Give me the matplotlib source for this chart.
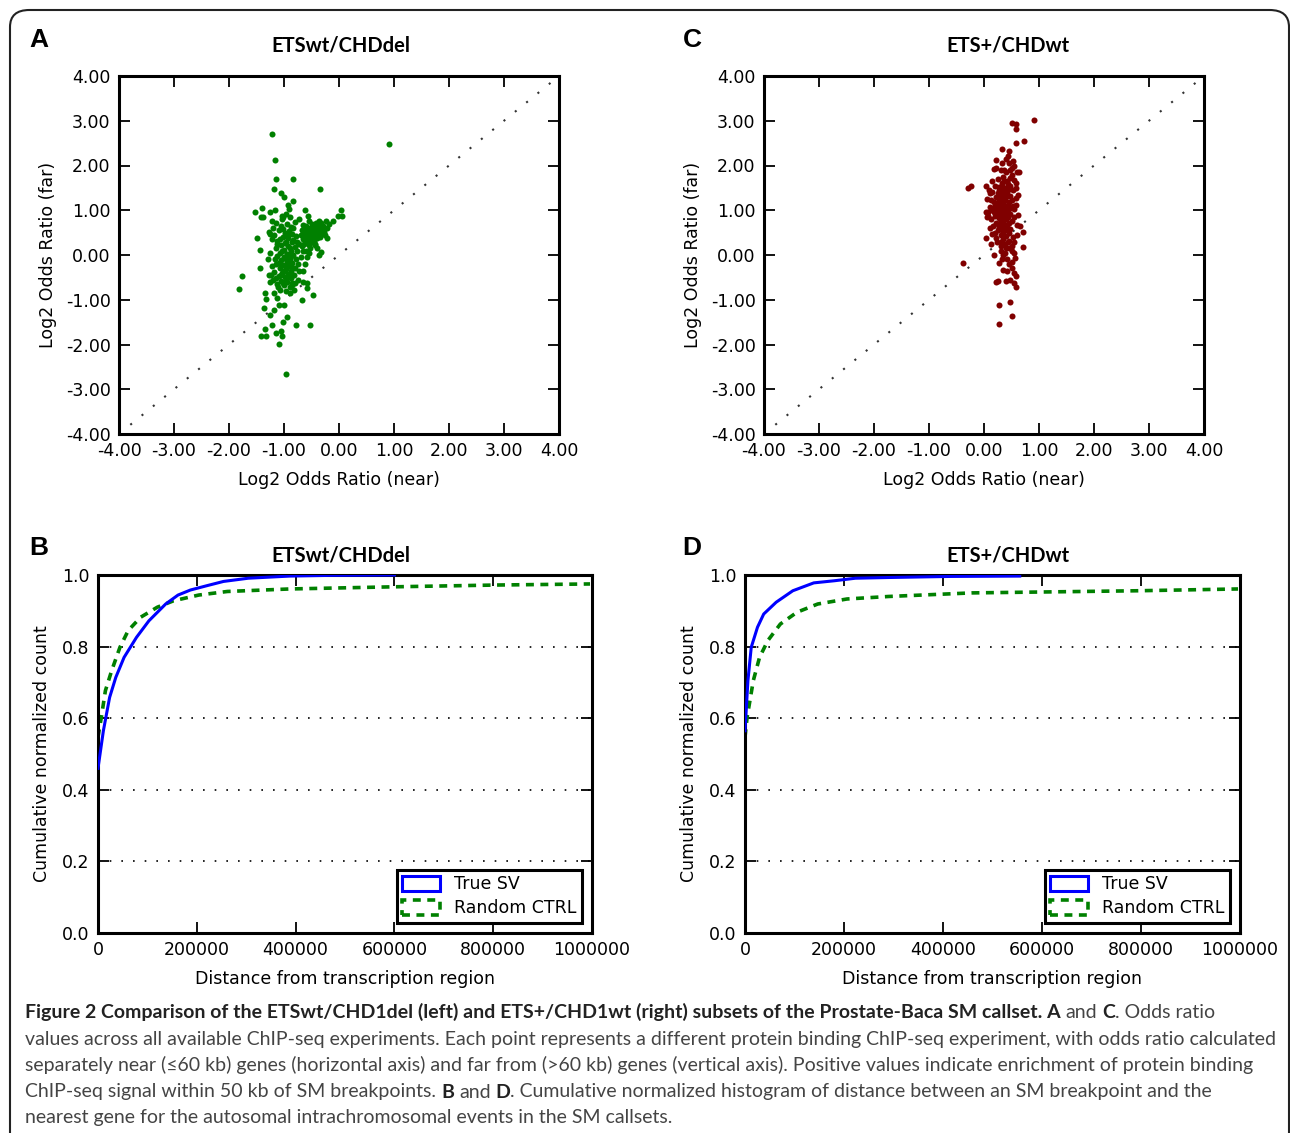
import matplotlib
matplotlib.use("Agg")
import matplotlib.pyplot as plt
from matplotlib.patches import Patch, FancyBboxPatch
from matplotlib.font_manager import FontProperties
import numpy as np

plt.rcParams["font.family"] = ["DejaVu Sans"]
plt.rcParams["font.sans-serif"] = ["DejaVu Sans"]

# ---------------- data ----------------
titles = ["ETSwt/CHDdel", "ETS+/CHDwt"]
panel_letters = ["A", "C", "B", "D"]
scatter_ticks = [-4, -3, -2, -1, 0, 1, 2, 3, 4]
cdf_xticks = [0, 200000, 400000, 600000, 800000, 1000000]
cdf_yticks = [0.0, 0.2, 0.4, 0.6, 0.8, 1.0]
legend_labels = ["True SV", "Random CTRL"]

a_pts = [
    (-1.21, 2.70), (0.91, 2.47), (-1.17, 2.12), (-1.14, 1.70), (-0.83, 1.70), (-1.18, 1.47),
    (-0.34, 1.47), (-1.06, 1.38), (-1.00, 1.29), (-0.84, 1.20), (-0.93, 1.11), (-0.91, 1.03),
    (-1.53, 0.96), (-1.40, 1.06), (-1.26, 0.96), (-1.17, 1.01), (-0.62, 1.01), (0.04, 1.00),
    (-0.02, 0.87), (0.05, 0.87), (-1.42, 0.86), (-1.38, 0.86), (-1.01, 0.84), (-1.04, 0.87),
    (-1.21, 0.77), (-0.11, 0.77), (-0.23, 0.75), (-0.57, 0.87), (-0.73, 0.81), (-0.80, 0.73),
    (-0.36, 0.75), (-1.26, 0.48), (-1.49, 0.37), (-0.21, 0.39), (-1.43, 0.11), (-0.36, -0.01),
    (-1.43, -0.30), (-1.76, -0.48), (-1.81, -0.77), (-1.34, -0.86), (-1.32, -0.98), (-0.68, -1.01),
    (-0.47, -0.89), (-1.36, -1.19), (-1.26, -1.34), (-1.19, -1.24), (-1.09, -1.12), (-1.00, -1.12),
    (-0.95, -1.38), (-1.01, -1.49), (-0.79, -1.56), (-0.53, -1.56), (-1.34, -1.66), (-1.21, -1.56),
    (-1.41, -1.82), (-1.32, -1.82), (-1.14, -1.75), (-1.04, -1.82), (-1.10, -1.99), (-0.96, -2.66),
    (-1.06, -1.69), (-1.19, -0.86), (-1.13, -0.97), (-0.89, -0.86), (-0.81, -0.78), (-0.58, -0.74),
    (-0.66, -0.60), (-0.85, -0.63), (-0.96, -0.56), (-1.11, -0.71), (-1.23, -0.45), (-1.26, -0.60),
    (-0.89, -0.45), (-0.58, -0.63), (-0.43, 0.22), (-0.40, 0.15), (-0.32, 0.07),
    (-1.05, 0.65), (-0.95, 0.70), (-0.88, 0.62), (-1.10, 0.55), (-0.98, 0.50), (-0.85, 0.48),
    (-1.18, 0.45), (-1.02, 0.40), (-0.92, 0.38), (-0.78, 0.42), (-1.12, 0.32), (-0.97, 0.30),
    (-0.86, 0.28), (-1.05, 0.22), (-0.93, 0.20), (-0.80, 0.18), (-1.15, 0.15), (-1.00, 0.12),
    (-0.88, 0.10), (-0.76, 0.08), (-1.08, 0.05), (-0.95, 0.02), (-0.83, 0.00), (-1.12, -0.03),
    (-1.00, -0.05), (-0.90, -0.08), (-0.78, -0.10), (-1.05, -0.12), (-0.95, -0.15), (-0.85, -0.18),
    (-1.15, -0.20), (-1.02, -0.22), (-0.92, -0.25), (-0.80, -0.28), (-1.08, -0.30), (-0.97, -0.32),
    (-0.87, -0.35), (-1.18, -0.38), (-1.03, -0.40), (-0.93, -0.42), (-0.82, -0.45), (-1.10, -0.48),
    (-0.98, -0.50), (-0.88, -0.52), (-1.20, -0.55), (-1.05, -0.58), (-0.95, -0.60), (-0.80, -0.62),
    (-1.12, -0.65), (-1.00, -0.68), (-0.90, -0.72), (-1.07, -0.78), (-0.96, -0.80), (-1.22, -0.25),
    (-1.25, 0.05), (-1.22, 0.35), (-1.20, 0.60), (-0.72, 0.25), (-0.70, -0.05), (-0.72, -0.35),
    (-0.68, 0.55), (-1.03, 0.80), (-0.90, 0.85), (-0.97, 0.92), (-1.15, 0.72), (-1.28, 0.52),
    (-1.30, -0.10), (-1.28, -0.45), (-0.75, -0.55), (-0.65, 0.10),
    (-0.65, 0.35), (-0.60, 0.40), (-0.55, 0.45), (-0.50, 0.50), (-0.45, 0.55), (-0.40, 0.60),
    (-0.35, 0.62), (-0.30, 0.58), (-0.62, 0.50), (-0.57, 0.55), (-0.52, 0.60), (-0.47, 0.65),
    (-0.42, 0.68), (-0.37, 0.70), (-0.32, 0.72), (-0.58, 0.30), (-0.53, 0.35), (-0.48, 0.40),
    (-0.43, 0.45), (-0.38, 0.50), (-0.33, 0.48), (-0.28, 0.52), (-0.25, 0.45), (-0.68, 0.20),
    (-0.63, 0.25), (-0.55, 0.22), (-0.50, 0.28), (-0.45, 0.32), (-0.40, 0.38), (-0.35, 0.40),
    (-0.42, 0.72), (-0.50, 0.70), (-0.60, 0.65), (-0.55, 0.75), (-0.47, 0.52), (-0.38, 0.56),
    (-0.30, 0.65), (-0.22, 0.60), (-0.18, 0.70), (-0.62, 0.58), (-0.70, 0.45), (-0.66, 0.68),
    (-0.44, 0.25), (-0.52, 0.15), (-0.60, 0.10), (-0.58, -0.05), (-0.62, -0.20), (-0.65, -0.35),
    (-0.55, 0.05),
    (-1.01, 0.58), (-0.91, 0.54), (-1.07, 0.36), (-0.83, 0.34), (-0.99, 0.26), (-0.89, 0.16),
    (-1.03, 0.08), (-0.87, -0.02), (-0.97, -0.10), (-1.09, -0.17), (-0.88, -0.27), (-1.00, -0.35),
    (-0.91, -0.48), (-1.14, -0.52), (-1.02, -0.62), (-0.86, -0.68), (-0.93, 0.45), (-1.13, 0.24),
    (-0.77, 0.30), (-0.74, -0.20), (-0.84, 0.60), (-0.94, -0.02), (-1.17, -0.10), (-1.06, -0.45),
    (-0.48, 0.60), (-0.40, 0.52), (-0.36, 0.66), (-0.53, 0.50), (-0.45, 0.42), (-0.58, 0.48),
    (-0.33, 0.55), (-0.27, 0.60), (-0.63, 0.42),
]
a_near = [p[0] for p in a_pts]
a_far = [p[1] for p in a_pts]

c_pts = [
    (0.90, 3.02), (0.50, 2.96), (0.59, 2.92), (0.58, 2.82), (0.73, 2.55), (0.58, 2.51),
    (0.32, 2.37), (0.46, 2.33), (0.22, 2.12), (0.43, 2.21), (0.64, 1.85), (0.18, 1.92),
    (-0.23, 1.55), (-0.29, 1.49), (0.03, 1.55), (0.09, 1.45), (0.10, 1.38), (0.59, 1.49),
    (0.58, 1.11), (0.71, 0.51), (0.70, 0.17), (0.04, 0.38), (0.18, -0.01), (-0.38, -0.18),
    (0.28, -0.18), (0.22, -0.61), (0.25, -0.59), (0.40, -0.57), (0.58, -0.48), (0.54, -0.63),
    (0.58, -0.72), (0.27, -1.11), (0.48, -1.06), (0.50, -1.36), (0.27, -1.54), (0.35, -0.33),
    (0.50, -0.29), (0.41, -0.09), (0.56, -0.07), (0.39, 0.04), (0.51, 0.10), (0.31, 0.19),
    (0.12, 0.25), (0.23, 0.28), (0.44, 0.30), (0.55, 0.29), (0.20, 0.49), (0.65, 0.64),
    (0.07, 0.88), (0.03, 0.97),
    (0.30, 1.90), (0.40, 1.85), (0.50, 1.95), (0.55, 2.00), (0.45, 2.05), (0.35, 1.75),
    (0.50, 1.78), (0.25, 1.70), (0.42, 1.65), (0.55, 1.68), (0.32, 1.60), (0.20, 1.55),
    (0.47, 1.55), (0.38, 1.50), (0.28, 1.45), (0.52, 1.45), (0.15, 1.40), (0.42, 1.40),
    (0.33, 1.35), (0.22, 1.30), (0.48, 1.32), (0.58, 1.28), (0.38, 1.25), (0.28, 1.20),
    (0.12, 1.22), (0.45, 1.18), (0.35, 1.12), (0.20, 1.10), (0.52, 1.10), (0.30, 1.05),
    (0.42, 1.02), (0.15, 1.00), (0.25, 0.98), (0.38, 0.95), (0.48, 0.92), (0.08, 0.95),
    (0.32, 0.90), (0.20, 0.88), (0.43, 0.85), (0.55, 0.85), (0.27, 0.82), (0.37, 0.78),
    (0.12, 0.80), (0.50, 0.75), (0.22, 0.72), (0.32, 0.70), (0.42, 0.68), (0.60, 0.68),
    (0.17, 0.65), (0.28, 0.62), (0.38, 0.60), (0.48, 0.58), (0.25, 0.55), (0.35, 0.52),
    (0.45, 0.50), (0.15, 0.48), (0.30, 0.45), (0.40, 0.42), (0.52, 0.40), (0.22, 0.38),
    (0.35, 0.35), (0.45, 0.32), (0.28, 1.52), (0.45, 1.48), (0.36, 1.20), (0.26, 1.15),
    (0.40, 1.08), (0.33, 0.98), (0.44, 0.95), (0.30, 0.85), (0.40, 0.80), (0.35, 1.30),
    (0.25, 1.38), (0.50, 1.22), (0.18, 1.18), (0.55, 1.02), (0.10, 1.08), (0.05, 0.85),
    (0.62, 0.90), (0.58, 1.60), (0.60, 1.85), (0.40, 2.15), (0.48, 1.90), (0.36, 1.65),
    (0.30, 0.58), (0.42, 0.55), (0.38, 0.25), (0.50, 0.20), (0.55, 0.05), (0.45, 0.15),
    (0.50, -0.15), (0.42, -0.35), (0.55, -0.40), (0.48, -0.55), (0.33, -0.10), (0.30, 0.10),
    (0.60, 0.45), (0.62, 1.35), (0.05, 1.25), (0.10, 0.60), (0.22, 1.95), (0.33, 2.05),
    (0.48, 1.72), (0.14, 1.65), (0.53, 2.10),
    (0.34, 1.42), (0.29, 1.28), (0.41, 1.32), (0.31, 1.13), (0.37, 1.03), (0.27, 0.92),
    (0.34, 0.84), (0.41, 0.90), (0.24, 1.05), (0.44, 1.12), (0.39, 1.38), (0.31, 0.76),
    (0.36, 0.66), (0.26, 0.70), (0.46, 0.72), (0.33, 1.55), (0.43, 1.58), (0.37, 1.90),
    (0.19, 0.95), (0.47, 1.05), (0.30, 0.30), (0.40, 0.15), (0.35, 0.00), (0.46, -0.20),
]
c_near = [p[0] for p in c_pts]
c_far = [p[1] for p in c_pts]

b_true_x = [0, 10900, 23500, 36000, 52800, 78000, 103000, 137000, 162000, 187000, 220000,
            254000, 304000, 388000, 472000, 600000]
b_true_y = [0.46, 0.565, 0.658, 0.714, 0.770, 0.826, 0.872, 0.919, 0.944, 0.958, 0.970,
            0.982, 0.991, 0.997, 0.999, 1.0]
b_rand_x = [0, 6700, 15000, 27700, 44400, 61200, 86300, 120000, 153000, 204000, 262000,
            388000, 598000, 807000, 996000]
b_rand_y = [0.547, 0.602, 0.677, 0.733, 0.798, 0.845, 0.882, 0.910, 0.928, 0.944, 0.954,
            0.961, 0.967, 0.972, 0.975]

d_true_x = [0, 5900, 12600, 25200, 37800, 63000, 96600, 139000, 181000, 223000, 290000,
            416000, 555000]
d_true_y = [0.565, 0.705, 0.798, 0.854, 0.891, 0.924, 0.956, 0.978, 0.984, 0.991, 0.993,
            0.996, 0.997]
d_rand_x = [0, 4200, 16800, 29400, 46200, 71400, 105000, 147000, 206000, 290000, 458000,
            626000, 794000, 996000]
d_rand_y = [0.547, 0.602, 0.705, 0.770, 0.817, 0.863, 0.896, 0.919, 0.933, 0.940, 0.950,
            0.953, 0.956, 0.961]

caption_lines = [
    [("Figure 2 Comparison of the ETSwt/CHD1del (left) and ETS+/CHD1wt (right) subsets of the Prostate-Baca SM callset. A", True, False),
     ("and", False, True), ("C", True, True), (". Odds ratio", False, False)],
    [("values across all available ChIP-seq experiments. Each point represents a different protein binding ChIP-seq experiment, with odds ratio calculated", False, False)],
    [("separately near (\u226460 kb) genes (horizontal axis) and far from (>60 kb) genes (vertical axis). Positive values indicate enrichment of protein binding", False, False)],
    [("ChIP-seq signal within 50 kb of SM breakpoints.", False, False), ("B", True, True), ("and", False, True),
     ("D", True, True), (". Cumulative normalized histogram of distance between an SM breakpoint and the", False, False)],
    [("nearest gene for the autosomal intrachromosomal events in the SM callsets.", False, False)],
]

# ---------------- figure ----------------
W, H = 1290, 1133
fig = plt.figure(figsize=(W / 100, H / 100), dpi=100)
fig.patch.set_facecolor("white")

TICKFS = 12.5
MAINF = "DejaVu Sans"


def fx(px):
    return px / W


def fy(py):
    return 1 - py / H


def ax_rect(l, t, r, b):
    return [fx(l), fy(b), (r - l) / W, (b - t) / H]


def style_axes(ax):
    for s in ax.spines.values():
        s.set_linewidth(2.2)
        s.set_color("black")
    ax.tick_params(direction="in", length=8, width=1.3, top=True, right=True,
                   labelsize=TICKFS, pad=6, colors="black", labelfontfamily=MAINF)


# scatter panels
for i, (near, far, col, left) in enumerate([(a_near, a_far, "#008000", 119),
                                             (c_near, c_far, "#800000", 764)]):
    ax = fig.add_axes(ax_rect(left, 76, left + 440, 434))
    ax.plot(scatter_ticks, scatter_ticks, linestyle=(0, (1, 6)), color="#333333", lw=1.5)
    ax.scatter(near, far, s=19, c=col, linewidths=0, zorder=3)
    ax.set_xlim(-4, 4)
    ax.set_ylim(-4, 4)
    ax.set_xticks(scatter_ticks)
    ax.set_yticks(scatter_ticks)
    ax.set_xticklabels([f"{v:.2f}" for v in scatter_ticks])
    ax.set_yticklabels([f"{v:.2f}" for v in scatter_ticks])
    style_axes(ax)
    ax.set_xlabel("Log2 Odds Ratio (near)", fontsize=TICKFS, labelpad=8, family=MAINF)
    ax.set_ylabel("Log2 Odds Ratio (far)", fontsize=TICKFS, labelpad=6, family=MAINF)

# cdf panels
for i, (tx, ty, rx, ry, left, right) in enumerate([
        (b_true_x, b_true_y, b_rand_x, b_rand_y, 98, 592),
        (d_true_x, d_true_y, d_rand_x, d_rand_y, 745, 1240)]):
    ax = fig.add_axes(ax_rect(left, 575, right, 933))
    for yv in cdf_yticks[1:-1]:
        ax.axhline(yv, color="black", linestyle=(0, (1, 6)), lw=1.2, zorder=1)
    ax.plot(tx, ty, color="#0000ff", lw=2.2, zorder=3, solid_joinstyle="round")
    ax.plot(rx, ry, color="#008000", lw=2.6, linestyle=(0, (2.2, 1.8)), zorder=2)
    ax.set_xlim(0, 1000000)
    ax.set_ylim(0, 1.0)
    ax.set_xticks(cdf_xticks)
    ax.set_xticklabels([str(v) for v in cdf_xticks])
    ax.set_yticks(cdf_yticks)
    ax.set_yticklabels([f"{v:.1f}" for v in cdf_yticks])
    style_axes(ax)
    ax.set_xlabel("Distance from transcription region", fontsize=TICKFS, labelpad=8, family=MAINF)
    ax.set_ylabel("Cumulative normalized count", fontsize=TICKFS, labelpad=8, family=MAINF)
    handles = [Patch(facecolor="none", edgecolor="#0000ff", lw=2.2),
               Patch(facecolor="none", edgecolor="#008000", lw=2.6, linestyle=(0, (2.2, 1.8)))]
    leg = ax.legend(handles, legend_labels, loc="lower right",
                    prop=FontProperties(family=MAINF, size=TICKFS),
                    fancybox=False, framealpha=1, edgecolor="black", borderaxespad=0.6,
                    handlelength=2.2, handleheight=0.9, borderpad=0.3, labelspacing=0.35,
                    handletextpad=0.8)
    leg.get_frame().set_linewidth(2.2)

# titles and letters
title_font = ["Lato", "DejaVu Sans"]
for (x, y, t) in [(341, 45, titles[0]), (1008, 45, titles[1]), (341, 555, titles[0]), (1008, 555, titles[1])]:
    fig.text(fx(x), fy(y), t, ha="center", va="center", fontsize=14.5, fontweight="bold",
             family=title_font)
for (x, y, t) in [(39, 40, "A"), (692, 40, "C"), (39, 548, "B"), (692, 548, "D")]:
    fig.text(fx(x), fy(y), t, ha="center", va="center", fontsize=19, fontweight="bold",
             family=["Liberation Sans", "DejaVu Sans"])

# border
border = FancyBboxPatch((fx(10), fy(1200)), fx(1289) - fx(10), fy(10) - fy(1200),
                        boxstyle="round,pad=0,rounding_size=0.015", transform=fig.transFigure,
                        facecolor="none", edgecolor="#222222", lw=1.5, clip_on=False)
fig.patches.append(border)

# caption
renderer = fig.canvas.get_renderer()
cap_family = ["Lato", "DejaVu Sans"]


def measure(text, size, bold):
    t = fig.text(0, 0, text, fontsize=size, family=list(cap_family),
                 fontweight="bold" if bold else "normal")
    w = t.get_window_extent(renderer).width
    t.remove()
    return w


base = 13.0
w2 = measure(caption_lines[1][0][0], base, False)
cap_fs = base * 1245.0 / w2
space_w = measure("x x", cap_fs, False) - measure("xx", cap_fs, False)

line_y = [1012, 1039, 1065, 1092, 1118]
for segs, y in zip(caption_lines, line_y):
    x = 25.0
    for text, bold, sp in segs:
        if sp:
            x += space_w
        t = fig.text(fx(x), fy(y), text, fontsize=cap_fs, family=list(cap_family),
                     fontweight="bold" if bold else "normal", va="center", ha="left",
                     color="#222222" if bold else "#444444")
        x = t.get_window_extent(renderer).x1

fig.savefig("out.png", dpi=100)
